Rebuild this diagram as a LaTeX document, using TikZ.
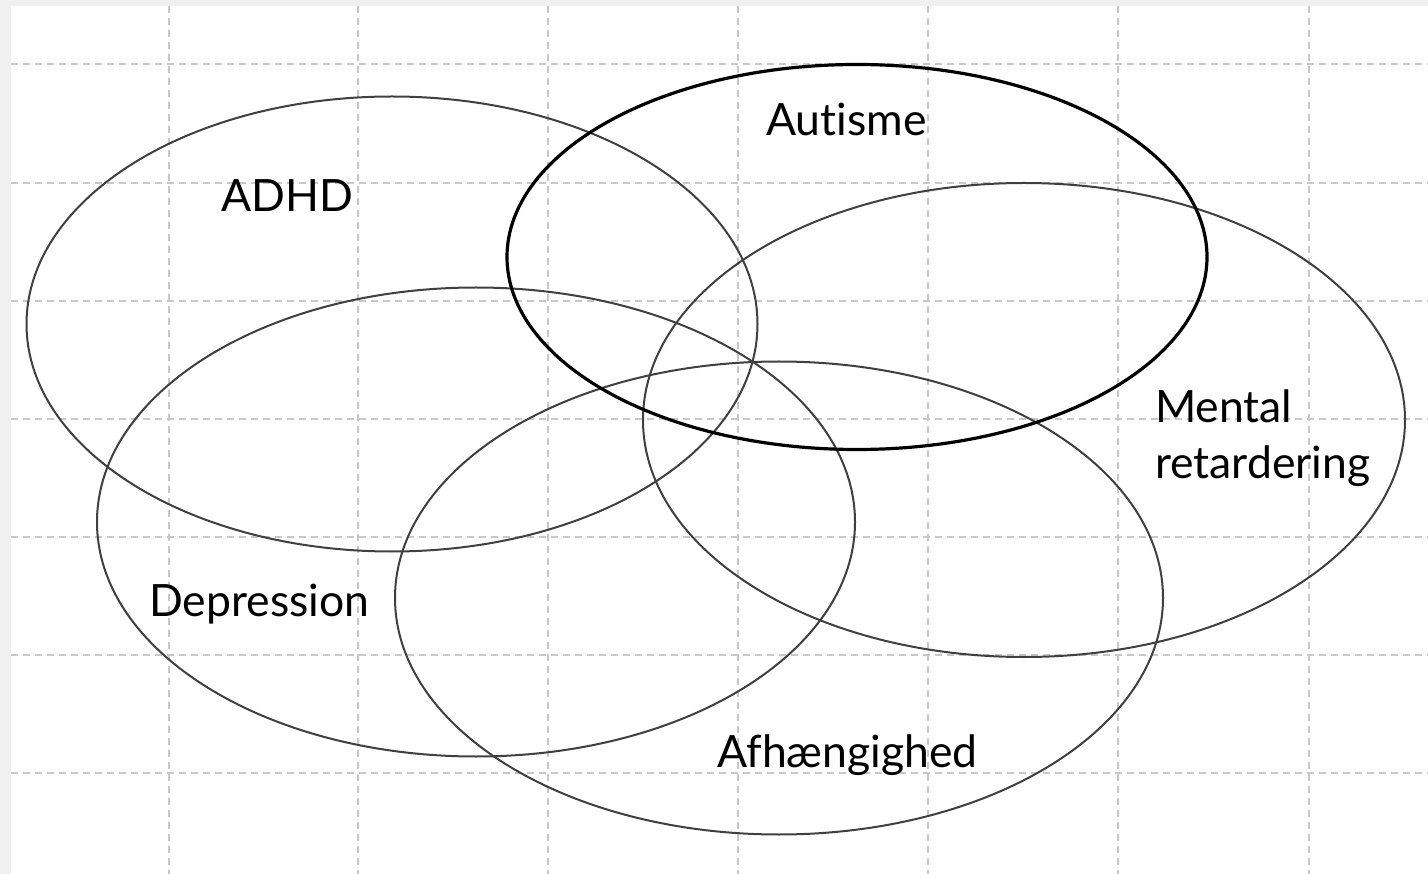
\documentclass[tikz,border=0pt]{standalone}
\usepackage{fontspec}
\setmainfont[Ligatures={NoCommon}]{Lato}
\usepackage{xcolor}
\usepackage{tikz}
\usetikzlibrary{shapes.geometric}
\definecolor{framegray}{HTML}{F0F0F0}
\definecolor{gridgray}{HTML}{C8C8C8}
\definecolor{ringgray}{HTML}{404040}
\tikzset{
  gridline/.style={draw=gridgray, line width=1.6pt, dash pattern=on 7pt off 5pt},
  ring/.style={draw=ringgray, ellipse, line width=2pt, inner sep=0pt},
  boldring/.style={draw=black, ellipse, line width=3.2pt, inner sep=0pt},
  label/.style={font=\fontsize{44.5}{56}\selectfont, inner sep=0pt, align=left}
}
\begin{document}
\begin{tikzpicture}[x=1pt, y=-1pt]
  \fill[framegray] (0,0) rectangle (1428,874);
  \fill[white] (11,6) rectangle (1428,874);
  \useasboundingbox (0,0) rectangle (1428,874);
  \foreach \gx in {169,358,548,738,928,1118,1309}
    \draw[gridline] (\gx,6) -- (\gx,874);
  \foreach \gy in {64,183,301,419,537,655,773}
    \draw[gridline] (11,\gy) -- (1428,\gy);

  \node[ring, minimum width=731pt, minimum height=455pt] (adhd) at (392,324) {};
  \node[ring, minimum width=758pt, minimum height=469pt] (depression) at (476,522) {};
  \node[ring, minimum width=762pt, minimum height=474pt] (mental) at (1024,420) {};
  \node[ring, minimum width=768pt, minimum height=473pt] (afh) at (779,598) {};
  \node[boldring, minimum width=700pt, minimum height=385pt] (autisme) at (857,257) {};

  \node[label, anchor=base west] (adhdtext) at (221,212) {ADHD};
  \node[label, anchor=base west] (autismetext) at (766,136) {Autisme};
  \node[label, anchor=base west] (deprtext) at (149,616) {Depression};
  \node[label, anchor=base west] (afhtext) at (717,767) {Afhængighed};
  \node[label, anchor=north west] (mentaltext) at (1155,390) {Mental\\retardering};
\end{tikzpicture}
\end{document}
